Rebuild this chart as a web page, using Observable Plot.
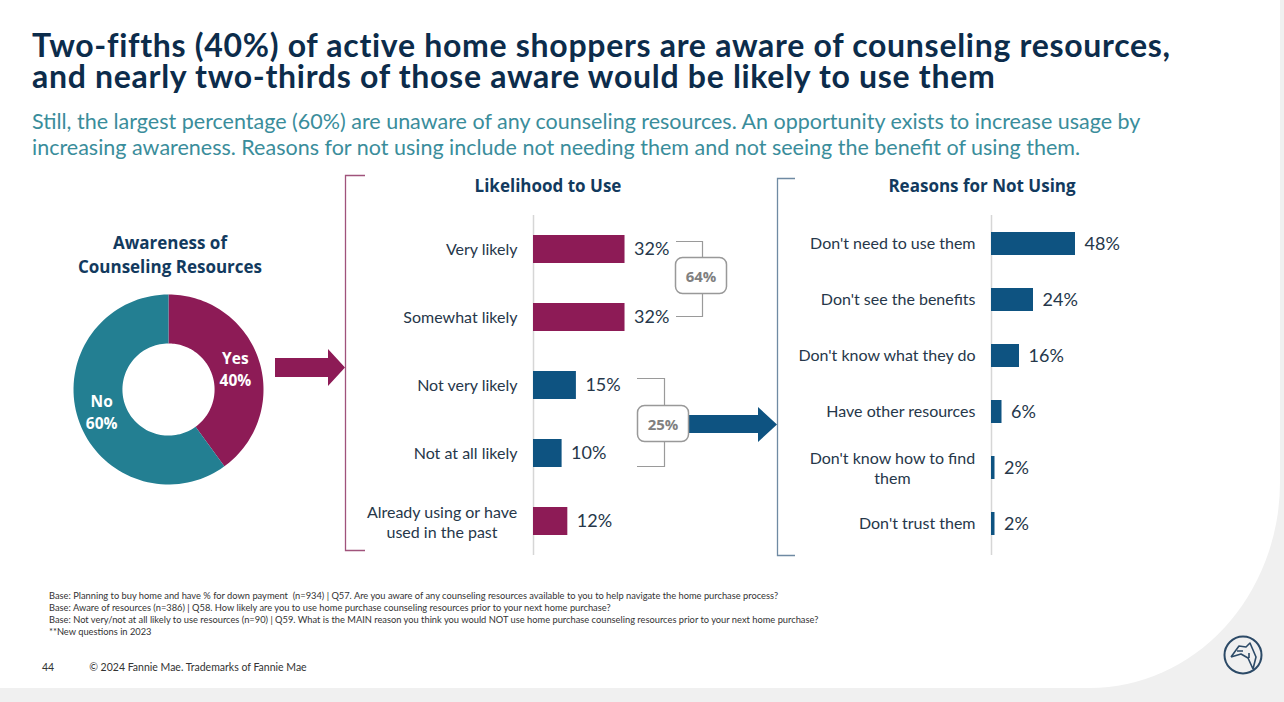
<!DOCTYPE html>
<html><head><meta charset="utf-8">
<script src="https://cdn.jsdelivr.net/npm/d3@7"></script>
<script src="https://cdn.jsdelivr.net/npm/@observablehq/plot@0.6"></script>
<style>
html,body{margin:0;padding:0}
body{width:1284px;height:702px;position:relative;overflow:hidden;background:#f0f0f0;font-family:Lato,"Noto Sans",sans-serif}
.abs{position:absolute}
#title{left:32px;top:30px;font-weight:700;font-size:32px;letter-spacing:0.7px;line-height:30.5px;color:#0c2c4b;white-space:nowrap}
#subtitle{left:32px;top:108px;font-size:21.5px;line-height:26px;color:#3a8d9b;white-space:nowrap}
.ctitle{font-family:"Open Sans",sans-serif;font-weight:700;font-size:17px;line-height:24px;color:#123a5e;text-align:center;width:260px}
#notes{left:49px;top:590px;font-size:9.3px;line-height:12px;color:#333;white-space:nowrap}
#footer{left:42px;top:661px;font-size:10.5px;color:#333;white-space:nowrap}
svg{overflow:visible}
</style></head>
<body>
<svg id="bg" class="abs" width="1284" height="702" style="left:0;top:0">
  <path d="M0,0H1280V482A190,206 0 0 1 1090,688H0Z" fill="#ffffff"/>
</svg>
<div id="title" class="abs"></div>
<div id="subtitle" class="abs"></div>
<div id="t1" class="abs ctitle" style="left:40px;top:231px"></div>
<div id="t2" class="abs ctitle" style="left:418px;top:174px"></div>
<div id="t3" class="abs ctitle" style="left:852px;top:174px"></div>
<div id="donut" class="abs" style="left:68px;top:289px"></div>
<div id="like" class="abs" style="left:340px;top:170px"></div>
<div id="reason" class="abs" style="left:760px;top:170px"></div>
<svg id="deco" class="abs" width="1284" height="702" style="left:0;top:0;pointer-events:none"></svg>
<div id="notes" class="abs"></div>
<div id="footer" class="abs"></div>
<script>
// ---------- text ----------
const titleLines = ["Two-fifths (40%) of active home shoppers are aware of counseling resources,",
  "and nearly two-thirds of those aware would be likely to use them"];
const subtitleLines = ["Still, the largest percentage (60%) are unaware of any counseling resources. An opportunity exists to increase usage by",
  "increasing awareness. Reasons for not using include not needing them and not seeing the benefit of using them."];
const chartTitles = ["Awareness of<br>Counseling Resources", "Likelihood to Use", "Reasons for Not Using"];
const footnotes = [
  "Base: Planning to buy home and have % for down payment&nbsp; (n=934) | Q57. Are you aware of any counseling resources available to you to help navigate the home purchase process?",
  "Base: Aware of resources (n=386) | Q58. How likely are you to use home purchase counseling resources prior to your next home purchase?",
  "Base: Not very/not at all likely to use resources (n=90) | Q59. What is the MAIN reason you think you would NOT use home purchase counseling resources prior to your next home purchase?",
  "**New questions in 2023"];
const pageNumber = "44";
const copyright = "© 2024 Fannie Mae. Trademarks of Fannie Mae";

// ---------- data ----------
const awareCats = ["Yes", "No"];
const awareValues = [40, 60];

const likeCats = ["Very likely", "Somewhat likely", "Not very likely", "Not at all likely", "Already using or have used in the past"];
const likeLabels = ["Very likely", "Somewhat likely", "Not very likely", "Not at all likely", "Already using or have\nused in the past"];
const likeValues = [32, 32, 15, 10, 12];
const likeGroups = ["likely", "likely", "unlikely", "unlikely", "likely"];
const netLikely = 64;
const netUnlikely = 25;

const reasonCats = ["Don't need to use them", "Don't see the benefits", "Don't know what they do", "Have other resources", "Don't know how to find them", "Don't trust them"];
const reasonLabels = ["Don't need to use them", "Don't see the benefits", "Don't know what they do", "Have other resources", "Don't know how to find\nthem", "Don't trust them"];
const reasonValues = [48, 24, 16, 6, 2, 2];

// ---------- colours ----------
const MAGENTA = "#8d1b56", TEAL = "#237f92", BLUE = "#0e5381", LABEL = "#26374a";

document.getElementById("title").innerHTML = titleLines.join("<br>");
document.getElementById("subtitle").innerHTML = subtitleLines.join("<br>");
["t1","t2","t3"].forEach((id,i)=>document.getElementById(id).innerHTML = chartTitles[i]);
document.getElementById("notes").innerHTML = footnotes.join("<br>");
document.getElementById("footer").innerHTML = pageNumber + '<span style="display:inline-block;width:35px"></span>' + copyright;

const canvas = document.createElement("canvas").getContext("2d");
function textWidth(s, font) { canvas.font = font; return canvas.measureText(s).width; }

// ---------- donut ----------
const inner = 0.485;
const arcPts = [];
const donutLabels = [];
let acc = 0;
awareCats.forEach((c, i) => {
  const a0 = acc / 100 * 2 * Math.PI; acc += awareValues[i];
  const a1 = acc / 100 * 2 * Math.PI;
  const n = 80;
  for (let k = 0; k <= n; k++) { const a = a0 + (a1 - a0) * k / n; arcPts.push({cat: c, x: Math.sin(a), y: Math.cos(a)}); }
  for (let k = n; k >= 0; k--) { const a = a0 + (a1 - a0) * k / n; arcPts.push({cat: c, x: inner * Math.sin(a), y: inner * Math.cos(a)}); }
  const am = (a0 + a1) / 2, rm = 0.74;
  donutLabels.push({cat: c, x: rm * Math.sin(am), y: rm * Math.cos(am), text: c + "\n" + awareValues[i] + "%"});
});
document.getElementById("donut").append(Plot.plot({
  width: 200, height: 200, margin: 5,
  style: {background: "transparent", overflow: "visible", fontFamily: "'Open Sans', sans-serif"},
  x: {domain: [-1, 1], axis: null}, y: {domain: [-1, 1], axis: null},
  color: {domain: awareCats, range: [MAGENTA, TEAL]},
  marks: [
    Plot.line(arcPts, {x: "x", y: "y", z: "cat", fill: "cat", stroke: null, curve: "linear-closed"}),
    Plot.text(donutLabels, {x: "x", y: "y", text: "text", fill: "white", fontWeight: 700, fontSize: 15.5, lineHeight: 1.4})
  ]
}));

// ---------- likelihood bars ----------
const likeData = likeCats.map((c, i) => ({cat: c, label: likeLabels[i], value: likeValues[i], group: likeGroups[i]}));
const LFONT = "16px Lato";
function labelMarks(data, gap) {
  const single = data.filter(d => !d.label.includes("\n"));
  const multi = data.filter(d => d.label.includes("\n"));
  const marks = [Plot.text(single, {x: 0, y: "cat", text: "label", textAnchor: "end", dx: -gap, fill: LABEL, fontSize: 16})];
  multi.forEach(d => {
    const w = Math.max(...d.label.split("\n").map(s => textWidth(s, LFONT)));
    marks.push(Plot.text([d], {x: 0, y: "cat", text: "label", textAnchor: "middle", dx: -gap - w / 2, fill: LABEL, fontSize: 16, lineHeight: 1.25}));
  });
  return marks;
}
document.getElementById("like").append(Plot.plot({
  width: 440, height: 390, marginTop: 45, marginBottom: 5, marginLeft: 0, marginRight: 0,
  style: {background: "transparent", overflow: "visible", fontFamily: "Lato, sans-serif"},
  x: {domain: [0, 100], range: [193, 479], axis: null},
  y: {domain: likeCats, range: [44.4, 385.6], paddingInner: 0.59, paddingOuter: 0.295, axis: null},
  color: {domain: ["likely", "unlikely"], range: [MAGENTA, BLUE]},
  marks: [
    Plot.ruleX([0], {stroke: "#d6d6d6", strokeWidth: 1.5}),
    Plot.barX(likeData, {x: "value", y: "cat", fill: "group"}),
    Plot.text(likeData, {x: "value", y: "cat", text: d => d.value + "%", textAnchor: "start", dx: 9, fill: LABEL, fontSize: 18}),
    ...labelMarks(likeData, 16)
  ]
}));

// ---------- reasons bars ----------
const reasonData = reasonCats.map((c, i) => ({cat: c, label: reasonLabels[i], value: reasonValues[i]}));
document.getElementById("reason").append(Plot.plot({
  width: 480, height: 390, marginTop: 45, marginBottom: 5, marginLeft: 0, marginRight: 0,
  style: {background: "transparent", overflow: "visible", fontFamily: "Lato, sans-serif"},
  x: {domain: [0, 100], range: [231, 406], axis: null},
  y: {domain: reasonCats, range: [43.2, 384], paddingInner: 0.595, paddingOuter: 0.2975, axis: null},
  marks: [
    Plot.ruleX([0], {stroke: "#d6d6d6", strokeWidth: 1.5}),
    Plot.barX(reasonData, {x: "value", y: "cat", fill: BLUE}),
    Plot.text(reasonData, {x: "value", y: "cat", text: d => d.value + "%", textAnchor: "start", dx: 9, fill: LABEL, fontSize: 18}),
    ...labelMarks(reasonData, 16)
  ]
}));

// ---------- decorations ----------
const deco = d3.select("#deco");
// magenta arrow and bracket
deco.append("path").attr("d", "M275,358H328V349L345,367.5L328,386V377H275Z").attr("fill", MAGENTA);
deco.append("path").attr("d", "M365,175.5H345.5V550.5H365").attr("fill", "none").attr("stroke", "#a0537b").attr("stroke-width", 1.3);
// navy bracket
deco.append("path").attr("d", "M795,178.5H777.5V555.5H795").attr("fill", "none").attr("stroke", "#6f8aa3").attr("stroke-width", 1.3);
// 64% bracket + box
deco.append("path").attr("d", "M676,241.5H702.5V316.5H676").attr("fill", "none").attr("stroke", "#9a9a9a").attr("stroke-width", 1.2);
deco.append("rect").attr("x", 675.5).attr("y", 257.5).attr("width", 51).attr("height", 36).attr("rx", 7).attr("fill", "#fff").attr("stroke", "#999").attr("stroke-width", 1.5);
deco.append("text").attr("x", 701).attr("y", 275.5).attr("text-anchor", "middle").attr("dominant-baseline", "central")
  .attr("font-family", "'Open Sans', sans-serif").attr("font-weight", 700).attr("font-size", 15).attr("fill", "#808080").text(netLikely + "%");
// 25% bracket + box + arrow
deco.append("path").attr("d", "M637,378.5H664.5V466.5H637").attr("fill", "none").attr("stroke", "#9a9a9a").attr("stroke-width", 1.2);
deco.append("path").attr("d", "M688,415H758V407L777,424.5L758,442V433H688Z").attr("fill", BLUE);
deco.append("rect").attr("x", 637.5).attr("y", 405.5).attr("width", 51).attr("height", 36).attr("rx", 7).attr("fill", "#fff").attr("stroke", "#999").attr("stroke-width", 1.5);
deco.append("text").attr("x", 663).attr("y", 423.5).attr("text-anchor", "middle").attr("dominant-baseline", "central")
  .attr("font-family", "'Open Sans', sans-serif").attr("font-weight", 700).attr("font-size", 15).attr("fill", "#808080").text(netUnlikely + "%");
// logo
const logo = deco.append("g").attr("transform", "translate(1243,655)").attr("fill", "none").attr("stroke", "#2c4a67").attr("stroke-width", 2);
logo.append("circle").attr("r", 18.5);
logo.append("path").attr("d", "M-12,2L-4,-9L3,-8L7,-12L13,2L10,14M-12,2L-2,-1L5,3L10,14M-6,-4L0,-4M6,-2V3").attr("stroke-width", 1.6).attr("stroke-linejoin", "round");
</script>
</body></html>
